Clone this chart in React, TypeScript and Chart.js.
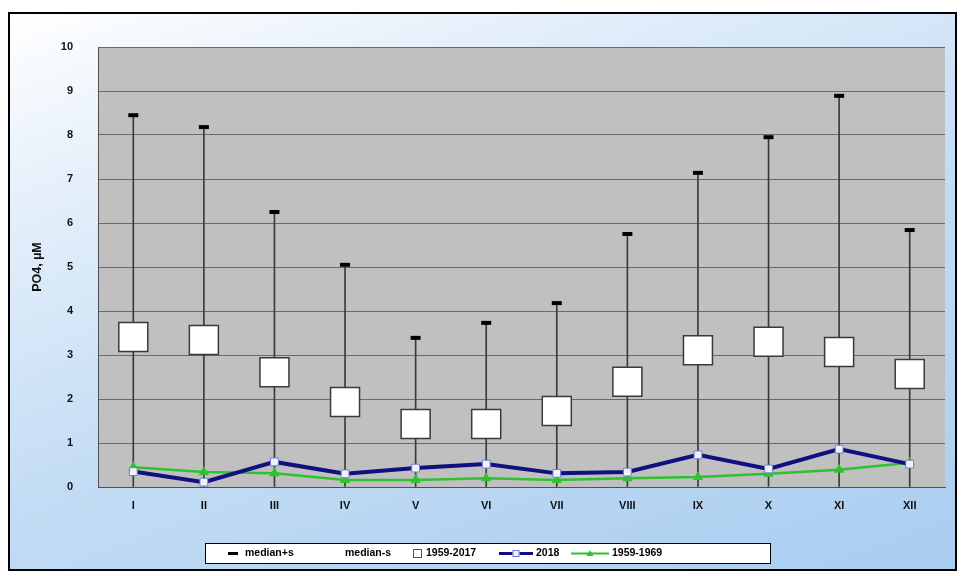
import React, { useEffect, useRef } from "react";
import { Chart, registerables } from "chart.js";

Chart.register(...registerables);

// ---- data ----
const months = ["I", "II", "III", "IV", "V", "VI", "VII", "VIII", "IX", "X", "XI", "XII"];
const medianPlusS = [8.45, 8.18, 6.25, 5.05, 3.39, 3.73, 4.18, 5.75, 7.14, 7.95, 8.89, 5.84];
// whiskers run down to the axis floor (median-s lies at/below 0)
const medianMinusS = [0, 0, 0, 0, 0, 0, 0, 0, 0, 0, 0, 0];
const median1959_2017 = [3.41, 3.34, 2.61, 1.93, 1.43, 1.43, 1.73, 2.39, 3.11, 3.3, 3.07, 2.57];
const values2018 = [0.35, 0.11, 0.57, 0.3, 0.43, 0.52, 0.31, 0.34, 0.73, 0.41, 0.86, 0.52];
const values1959_1969 = [0.45, 0.34, 0.31, 0.16, 0.16, 0.2, 0.16, 0.2, 0.23, 0.3, 0.39, 0.55];
const yMin = 0;
const yMax = 10;
const yStep = 1;
const yTitle = "PO4, µM";
const legendLabels = ["median+s", "median-s", "1959-2017", "2018", "1959-1969"];

const FONT = "'Liberation Sans', Arial, sans-serif";
const BLUE = "#10107f";
const GREEN = "#2fc12f";
const CANVAS_W = 945;
const CANVAS_H = 555;

const plotBgPlugin = {
  id: "plotBg",
  beforeDraw(chart: any) {
    const { ctx, chartArea: a } = chart;
    ctx.save();
    ctx.fillStyle = "#c0c0c0";
    ctx.fillRect(a.left, a.top, a.right - a.left, a.bottom - a.top);
    ctx.restore();
  },
};

// symbol offset, symbol width, text offset (relative to legend box left)
const legendLayout = [
  { kind: "dash", sx: 23, sw: 10, tx: 40 },
  { kind: "none", sx: 0, sw: 0, tx: 140 },
  { kind: "square", sx: 208, sw: 10, tx: 221 },
  { kind: "blue", sx: 294, sw: 34, tx: 331 },
  { kind: "green", sx: 366, sw: 38, tx: 407 },
];

const legendPlugin = {
  id: "customLegend",
  afterDraw(chart: any) {
    const { ctx, chartArea: a } = chart;
    const boxL = 195;
    const boxT = a.bottom + 56;
    const boxW = 565;
    const boxH = 20;
    ctx.save();
    ctx.fillStyle = "#ffffff";
    ctx.fillRect(boxL, boxT, boxW, boxH);
    ctx.strokeStyle = "#000000";
    ctx.lineWidth = 1;
    ctx.strokeRect(boxL + 0.5, boxT + 0.5, boxW, boxH);
    ctx.font = `bold 10.5px ${FONT}`;
    ctx.textBaseline = "middle";
    const cy = boxT + boxH / 2 + 0.5;
    legendLabels.forEach((label, i) => {
      const { kind, sx, sw, tx } = legendLayout[i];
      const x = boxL + sx;
      if (kind === "dash") {
        ctx.fillStyle = "#000";
        ctx.fillRect(x, cy - 1.5, sw, 3);
      } else if (kind === "square") {
        ctx.fillStyle = "#fff";
        ctx.strokeStyle = "#555";
        ctx.lineWidth = 1;
        ctx.fillRect(x, cy - 4.5, 9, 9);
        ctx.strokeRect(x + 0.5, cy - 4, 8, 8);
      } else if (kind === "blue") {
        ctx.strokeStyle = BLUE;
        ctx.lineWidth = 3;
        ctx.beginPath();
        ctx.moveTo(x, cy);
        ctx.lineTo(x + sw, cy);
        ctx.stroke();
        ctx.fillStyle = "#f0f0ff";
        ctx.fillRect(x + sw / 2 - 3.5, cy - 3.5, 7, 7);
        ctx.strokeStyle = "#6a7fd0";
        ctx.lineWidth = 1;
        ctx.strokeRect(x + sw / 2 - 3, cy - 3, 6, 6);
      } else if (kind === "green") {
        ctx.strokeStyle = GREEN;
        ctx.lineWidth = 2;
        ctx.beginPath();
        ctx.moveTo(x, cy);
        ctx.lineTo(x + sw, cy);
        ctx.stroke();
        ctx.fillStyle = GREEN;
        ctx.beginPath();
        ctx.moveTo(x + sw / 2, cy - 3.5);
        ctx.lineTo(x + sw / 2 + 3.5, cy + 2.5);
        ctx.lineTo(x + sw / 2 - 3.5, cy + 2.5);
        ctx.closePath();
        ctx.fill();
      }
      ctx.fillStyle = "#000";
      ctx.fillText(label, boxL + tx, cy);
    });
    ctx.restore();
  },
};

export default function App() {
  const canvasRef = useRef<HTMLCanvasElement | null>(null);

  useEffect(() => {
    if (!canvasRef.current) return;
    const chart = new Chart(canvasRef.current, {
      type: "bar",
      data: {
        labels: months,
        datasets: [
          {
            type: "line",
            label: legendLabels[0],
            data: medianPlusS,
            showLine: false,
            pointStyle: "line",
            pointRadius: 5,
            pointBorderWidth: 4,
            pointBorderColor: "#000",
            borderColor: "#000",
            order: 0,
          } as any,
          {
            type: "line",
            label: legendLabels[1],
            data: medianMinusS,
            showLine: false,
            pointRadius: 0,
            order: 5,
          } as any,
          {
            type: "line",
            label: legendLabels[2],
            data: median1959_2017,
            showLine: false,
            pointStyle: "rect",
            pointRadius: 20.5,
            pointBackgroundColor: "#ffffff",
            pointBorderColor: "#3a3a3a",
            pointBorderWidth: 1.5,
            order: 1,
          } as any,
          {
            type: "line",
            label: legendLabels[3],
            data: values2018,
            borderColor: BLUE,
            borderWidth: 4,
            tension: 0,
            pointStyle: "rect",
            pointRadius: 5.5,
            pointBackgroundColor: "#f0f0ff",
            pointBorderColor: "#7083d0",
            pointBorderWidth: 1,
            order: 2,
          } as any,
          {
            type: "line",
            label: legendLabels[4],
            data: values1959_1969,
            borderColor: GREEN,
            borderWidth: 2.5,
            tension: 0,
            pointStyle: "triangle",
            pointRadius: 3.5,
            pointBackgroundColor: GREEN,
            pointBorderColor: GREEN,
            order: 3,
          } as any,
          {
            type: "bar",
            label: "whiskers",
            data: months.map((_, i) => [medianMinusS[i], medianPlusS[i]]),
            backgroundColor: "#3a3a3a",
            barThickness: 1,
            order: 10,
          } as any,
        ],
      },
      options: {
        animation: false,
        responsive: false,
        maintainAspectRatio: false,
        devicePixelRatio: 1,
        layout: { autoPadding: false, padding: { top: 33, right: 10, bottom: 26, left: 0 } },
        plugins: {
          legend: { display: false },
          tooltip: { enabled: false },
        },
        scales: {
          x: {
            type: "category",
            offset: true,
            grid: { display: false, drawTicks: false },
            border: { display: true, color: "#505050", width: 1 },
            ticks: {
              color: "#111",
              font: { family: FONT, size: 11, weight: "bold" },
              padding: 12,
              maxRotation: 0,
            },
            afterFit(scale: any) {
              scale.height = 56;
              scale.paddingLeft = 0;
              scale.paddingRight = 0;
            },
          },
          y: {
            min: yMin,
            max: yMax,
            grid: { color: "#6a6a6a", lineWidth: 1, drawTicks: false },
            border: { display: true, color: "#505050", width: 1 },
            ticks: {
              stepSize: yStep,
              color: "#111",
              font: { family: FONT, size: 11, weight: "bold" },
              padding: 25,
            },
            title: {
              display: true,
              text: yTitle,
              color: "#111",
              font: { family: FONT, size: 12.5, weight: "bold" },
              padding: { top: 20, bottom: 0 },
            },
            afterFit(scale: any) {
              scale.width = 88;
            },
          },
        },
      } as any,
      plugins: [plotBgPlugin, legendPlugin],
    });
    return () => chart.destroy();
  }, []);

  return (
    <div style={{ paddingTop: 4 }}>
      <div
        style={{
          width: 949,
          height: 559,
          boxSizing: "border-box",
          border: "2px solid #000",
          background:
            "linear-gradient(160deg, #ffffff 0%, #e4effa 22%, #c3dcf4 55%, #a9cdf0 100%)",
        }}
      >
        <canvas
          ref={canvasRef}
          width={CANVAS_W}
          height={CANVAS_H}
          style={{ display: "block", width: CANVAS_W, height: CANVAS_H }}
        />
      </div>
    </div>
  );
}
